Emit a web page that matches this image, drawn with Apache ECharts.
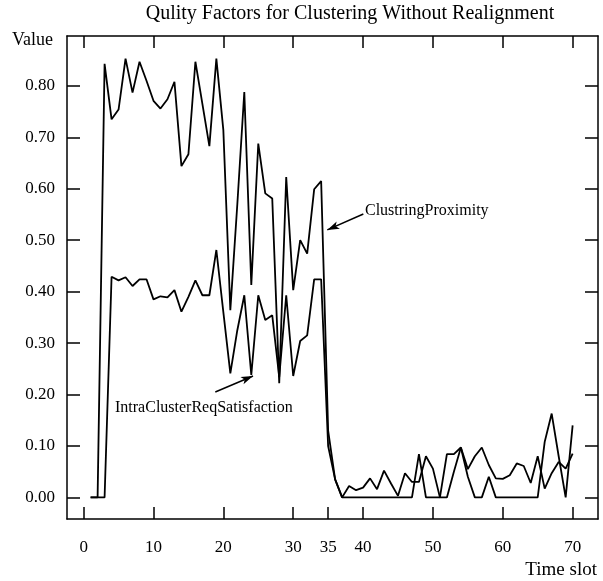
<!DOCTYPE html>
<html>
<head>
<meta charset="utf-8">
<script src="https://cdn.jsdelivr.net/npm/echarts@6/dist/echarts.min.js"></script>
<style>
  html, body { margin: 0; padding: 0; background: #fff; }
  #chart { width: 603px; height: 581px; }
</style>
</head>
<body>
<div id="chart"></div>
<script>
const timeSlots = [1, 2, 3, 4, 5, 6, 7, 8, 9, 10, 11, 12, 13, 14, 15, 16, 17, 18, 19, 20,
  21, 22, 23, 24, 25, 26, 27, 28, 29, 30, 31, 32, 33, 34, 35, 36, 37, 38, 39, 40,
  41, 42, 43, 44, 45, 46, 47, 48, 49, 50, 51, 52, 53, 54, 55, 56, 57, 58, 59, 60,
  61, 62, 63, 64, 65, 66, 67, 68, 69, 70]
const proximity = [0, 0, 0.843, 0.735, 0.754, 0.853, 0.787, 0.847, 0.81, 0.771,
  0.756, 0.774, 0.808, 0.644, 0.667, 0.847, 0.765, 0.683, 0.853, 0.714,
  0.364, 0.57, 0.788, 0.413, 0.688, 0.591, 0.581, 0.222, 0.623, 0.403,
  0.5, 0.474, 0.599, 0.615, 0.13, 0.035, 0, 0.022, 0.014, 0.019,
  0.037, 0.016, 0.052, 0.027, 0.003, 0.047, 0.03, 0.03, 0.08, 0.056,
  0, 0, 0.05, 0.097, 0.055, 0.08, 0.097, 0.063, 0.037, 0.036,
  0.043, 0.066, 0.061, 0.028, 0.08, 0.017, 0.047, 0.069, 0.056, 0.085]
const satisfaction = [0, 0, 0, 0.429, 0.422, 0.428, 0.411, 0.424, 0.424, 0.385,
  0.391, 0.389, 0.403, 0.361, 0.39, 0.422, 0.393, 0.393, 0.481, 0.36,
  0.241, 0.325, 0.393, 0.238, 0.393, 0.345, 0.354, 0.234, 0.393, 0.236,
  0.304, 0.315, 0.424, 0.424, 0.1, 0.035, 0, 0, 0, 0,
  0, 0, 0, 0, 0, 0, 0, 0.084, 0, 0,
  0, 0.084, 0.084, 0.097, 0.04, 0, 0, 0.04, 0, 0,
  0, 0, 0, 0, 0, 0.108, 0.163, 0.08, 0, 0.14]
const xTicks = [0, 10, 20, 30, 35, 40, 50, 60, 70]
const xTopTicks = [0, 10, 20, 30, 40, 50, 60, 70]
const yTicks = [0, 0.1, 0.2, 0.3, 0.4, 0.5, 0.6, 0.7, 0.8]

const serif = '"Liberation Serif", "DejaVu Serif", serif'

function toPoints(values) {
  return timeSlots.map((t, i) => [t, values[i]])
}

function frameAxis(extra) {
  return Object.assign({
    type: 'value',
    axisLine: { show: true, onZero: false, lineStyle: { color: '#000', width: 1.5 } },
    splitLine: { show: false },
  }, extra)
}

function ticks(values, len) {
  return { show: true, inside: true, length: len, customValues: values, lineStyle: { color: '#000', width: 1.5 } }
}

// arrows pointing at the two curves
function pointer(from, to) {
  return {
    silent: true,
    symbol: ['none', 'arrow'],
    symbolSize: [6, 12],
    label: { show: false },
    lineStyle: { color: '#000', width: 1.5, type: 'solid' },
    data: [[{ coord: from }, { coord: to }]],
  }
}

const chart = echarts.init(document.getElementById('chart'))
chart.setOption({
  animation: false,
  backgroundColor: '#fff',
  grid: { left: 67, right: 5, top: 36, bottom: 62 },
  xAxis: [
    frameAxis({
      position: 'bottom',
      min: -2.38,
      max: 73.63,
      axisTick: ticks(xTicks, 12),
      axisLabel: { customValues: xTicks, color: '#000', fontFamily: serif, fontSize: 17, margin: 20 },
    }),
    frameAxis({
      position: 'top',
      min: -2.38,
      max: 73.63,
      axisTick: ticks(xTopTicks, 12),
      axisLabel: { show: false },
    }),
  ],
  yAxis: [
    frameAxis({
      position: 'left',
      min: -0.042,
      max: 0.897,
      axisTick: ticks(yTicks, 13),
      axisLabel: {
        customValues: yTicks,
        color: '#000',
        fontFamily: serif,
        fontSize: 17,
        margin: 12,
        formatter: (v) => v.toFixed(2),
      },
    }),
    frameAxis({
      position: 'right',
      min: -0.042,
      max: 0.897,
      axisTick: ticks(yTicks, 13),
      axisLabel: { show: false },
    }),
  ],
  series: [
    {
      name: 'ClustringProximity',
      type: 'line',
      data: toPoints(proximity),
      showSymbol: false,
      lineStyle: { color: '#000', width: 1.8 },
      markLine: pointer([40.04, 0.551], [34.88, 0.52]),
    },
    {
      name: 'IntraClusterReqSatisfaction',
      type: 'line',
      data: toPoints(satisfaction),
      showSymbol: false,
      lineStyle: { color: '#000', width: 1.8 },
      markLine: pointer([18.85, 0.205], [24.25, 0.236]),
    },
  ],
  graphic: [
    {
      type: 'text', x: 350, y: 14,
      style: { text: 'Qulity Factors for Clustering Without Realignment', font: '20px ' + serif, fill: '#000', align: 'center', verticalAlign: 'middle' },
    },
    {
      type: 'text', x: 12, y: 40,
      style: { text: 'Value', font: '18px ' + serif, fill: '#000', align: 'left', verticalAlign: 'middle' },
    },
    {
      type: 'text', x: 597, y: 570,
      style: { text: 'Time slot', font: '19px ' + serif, fill: '#000', align: 'right', verticalAlign: 'middle' },
    },
    {
      type: 'text', x: 365, y: 211,
      style: { text: 'ClustringProximity', font: '16px ' + serif, fill: '#000', align: 'left', verticalAlign: 'middle' },
    },
    {
      type: 'text', x: 115, y: 408,
      style: { text: 'IntraClusterReqSatisfaction', font: '16px ' + serif, fill: '#000', align: 'left', verticalAlign: 'middle' },
    },
  ],
})
</script>
</body>
</html>
